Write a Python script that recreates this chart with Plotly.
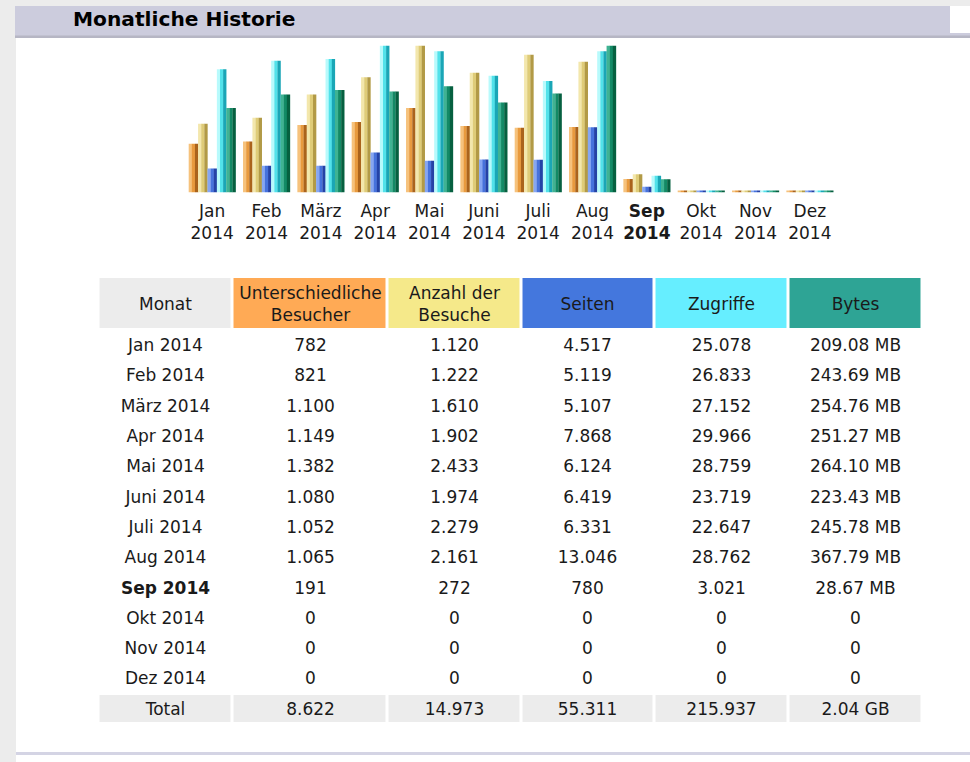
import plotly.graph_objects as go

# ---------------- data ----------------
months = ["Jan", "Feb", "März", "Apr", "Mai", "Juni", "Juli", "Aug", "Sep", "Okt", "Nov", "Dez"]
year = "2014"
current_month = "Sep"

visitors = [782, 821, 1100, 1149, 1382, 1080, 1052, 1065, 191, 0, 0, 0]
visits = [1120, 1222, 1610, 1902, 2433, 1974, 2279, 2161, 272, 0, 0, 0]
pages = [4517, 5119, 5107, 7868, 6124, 6419, 6331, 13046, 780, 0, 0, 0]
hits = [25078, 26833, 27152, 29966, 28759, 23719, 22647, 28762, 3021, 0, 0, 0]
bytes_mb = [209.08, 243.69, 254.76, 251.27, 264.10, 223.43, 245.78, 367.79, 28.67, 0, 0, 0]

header_labels = ["Monat", "Unterschiedliche<br>Besucher", "Anzahl der<br>Besuche",
                 "Seiten", "Zugriffe", "Bytes"]
total_labels = ["Total", "8.622", "14.973", "55.311", "215.937", "2.04 GB"]
title_text = "Monatliche Historie"

# ---------------- style ----------------
W, H = 970, 762
FONT = "DejaVu Sans"
FS = 17
TXT = "#1a1a1a"

def fx(p):
    return p / W

def fy(p):
    return 1 - p / H

bar_colors = {
    "visitors": ["#f6c27c", "#e89a3e", "#aa631c"],
    "visits": ["#f3e7ac", "#dfcc78", "#b29a46"],
    "pages": ["#86a6f2", "#4672dc", "#2442a6"],
    "hits": ["#b8fafc", "#52e2ea", "#1aa6b6"],
    "bytes": ["#3fb393", "#138a66", "#066040"],
}

series = [
    (visitors, "y", bar_colors["visitors"]),
    (visits, "y", bar_colors["visits"]),
    (pages, "y2", bar_colors["pages"]),
    (hits, "y2", bar_colors["hits"]),
    (bytes_mb, "y3", bar_colors["bytes"]),
]
axis_max = {"y": max(visitors + visits), "y2": max(pages + hits), "y3": max(bytes_mb)}
ZF = 0.014  # tiny stub so zero months show a hairline

fig = go.Figure()

bar_w = 0.1728
strip = bar_w / 3
start = -0.432
for i, (vals, ax, cols) in enumerate(series):
    M = axis_max[ax]
    for j, c in enumerate(cols):
        fig.add_trace(go.Bar(
            x=months, y=[v + ZF * M for v in vals], base=-ZF * M,
            xaxis="x", yaxis=ax,
            offset=start + i * bar_w + j * strip, width=strip * 1.06,
            marker=dict(color=c, line=dict(width=0)),
            hoverinfo="skip", showlegend=False,
        ))

ticktext = []
for m in months:
    if m == current_month:
        ticktext.append(f"<b>{m}</b><br><b>{year}</b>")
    else:
        ticktext.append(f"{m}<br>{year}")

# ---------------- table (heatmap cells) ----------------
def de_int(v):
    return f"{v:,}".replace(",", ".")

def fmt_bytes(v):
    return f"{v:.2f} MB" if v else "0"

col_w = [134, 155, 133.5, 133.5, 134, 134]
row_h = [53] + [30.3] * 13
x_edges = [0]
for w in col_w:
    x_edges.append(x_edges[-1] + w)
y_edges = [0]
for h in row_h:
    y_edges.append(y_edges[-1] + h)

palette = ["#ffffff", "#ececec", "#ffaa55", "#f5e98a", "#4477dd", "#66eeff", "#2ea495"]
n = len(palette)
cscale = []
for k, c in enumerate(palette):
    cscale.append([k / n, c])
    cscale.append([(k + 1) / n, c])

text_rows = [header_labels]
z_rows = [[1, 2, 3, 4, 5, 6]]
for k, m in enumerate(months):
    row = [f"{m} {year}", de_int(visitors[k]), de_int(visits[k]), de_int(pages[k]),
           de_int(hits[k]), fmt_bytes(bytes_mb[k])]
    if m == current_month:
        row = [f"<b>{t}</b>" if idx == 0 else t for idx, t in enumerate(row)]
    text_rows.append(row)
    z_rows.append([0] * 6)
text_rows.append(total_labels)
z_rows.append([1] * 6)

fig.add_trace(go.Heatmap(
    x=x_edges, y=y_edges, z=z_rows, text=text_rows,
    texttemplate="%{text}",
    textfont=dict(family=FONT, size=FS, color=TXT),
    colorscale=cscale, zmin=-0.5, zmax=n - 0.5, showscale=False,
    xgap=3, ygap=3, hoverinfo="skip",
    xaxis="x2", yaxis="y4",
))

TABLE_TOP = 277

# ---------------- page decorations ----------------
shapes = [
    dict(type="rect", xref="paper", yref="paper", x0=0, x1=fx(16), y0=0, y1=1,
         fillcolor="#ececec", line=dict(width=0), layer="below"),
    dict(type="rect", xref="paper", yref="paper", x0=0, x1=1, y0=fy(6), y1=1,
         fillcolor="#ececec", line=dict(width=0), layer="below"),
    dict(type="rect", xref="paper", yref="paper", x0=fx(15), x1=1, y0=fy(36), y1=fy(6),
         fillcolor="#ccccdd", line=dict(width=0), layer="below"),
    dict(type="rect", xref="paper", yref="paper", x0=fx(950), x1=1, y0=fy(33), y1=fy(6),
         fillcolor="#ffffff", line=dict(width=0), layer="below"),
    dict(type="rect", xref="paper", yref="paper", x0=fx(15), x1=1, y0=fy(38), y1=fy(35.5),
         fillcolor="#b6b6c4", line=dict(width=0), layer="below"),
    dict(type="rect", xref="paper", yref="paper", x0=fx(16), x1=1, y0=fy(755), y1=fy(752),
         fillcolor="#d4d4e4", line=dict(width=0), layer="below"),
]

annotations = [
    dict(text=f"<b>{title_text}</b>", xref="paper", yref="paper", x=fx(71), y=fy(19.5),
         xanchor="left", yanchor="middle", showarrow=False,
         font=dict(family=FONT, size=20.2, color="#000000")),
]

fig.update_layout(
    width=W, height=H,
    margin=dict(l=0, r=0, t=0, b=0),
    paper_bgcolor="#ffffff", plot_bgcolor="rgba(0,0,0,0)",
    font=dict(family=FONT, size=FS, color=TXT),
    barmode="overlay", showlegend=False,
    shapes=shapes, annotations=annotations,
    xaxis=dict(domain=[fx(185), fx(837)], range=[-0.5, 11.5], type="category",
               tickmode="array", tickvals=months, ticktext=ticktext,
               showgrid=False, zeroline=False, showline=False, ticks="",
               ticklabelstandoff=6,
               tickfont=dict(family=FONT, size=FS, color=TXT), anchor="y",
               fixedrange=True),
    yaxis=dict(domain=[fy(192.5), fy(45.5)],
               range=[-ZF * axis_max["y"], axis_max["y"]], visible=False, anchor="x"),
    yaxis2=dict(overlaying="y", range=[-ZF * axis_max["y2"], axis_max["y2"]],
                visible=False, anchor="x"),
    yaxis3=dict(overlaying="y", range=[-ZF * axis_max["y3"], axis_max["y3"]],
                visible=False, anchor="x"),
    xaxis2=dict(domain=[fx(98.5), fx(922.5)], range=[0, x_edges[-1]], visible=False,
                anchor="y4"),
    yaxis4=dict(domain=[fy(TABLE_TOP + y_edges[-1]), fy(TABLE_TOP)], range=[y_edges[-1], 0],
                visible=False, anchor="x2"),
)

fig.write_html(
    "out.html",
    config={"displayModeBar": False},
    post_script="document.body.style.margin='0';document.body.style.overflow='hidden';",
)
